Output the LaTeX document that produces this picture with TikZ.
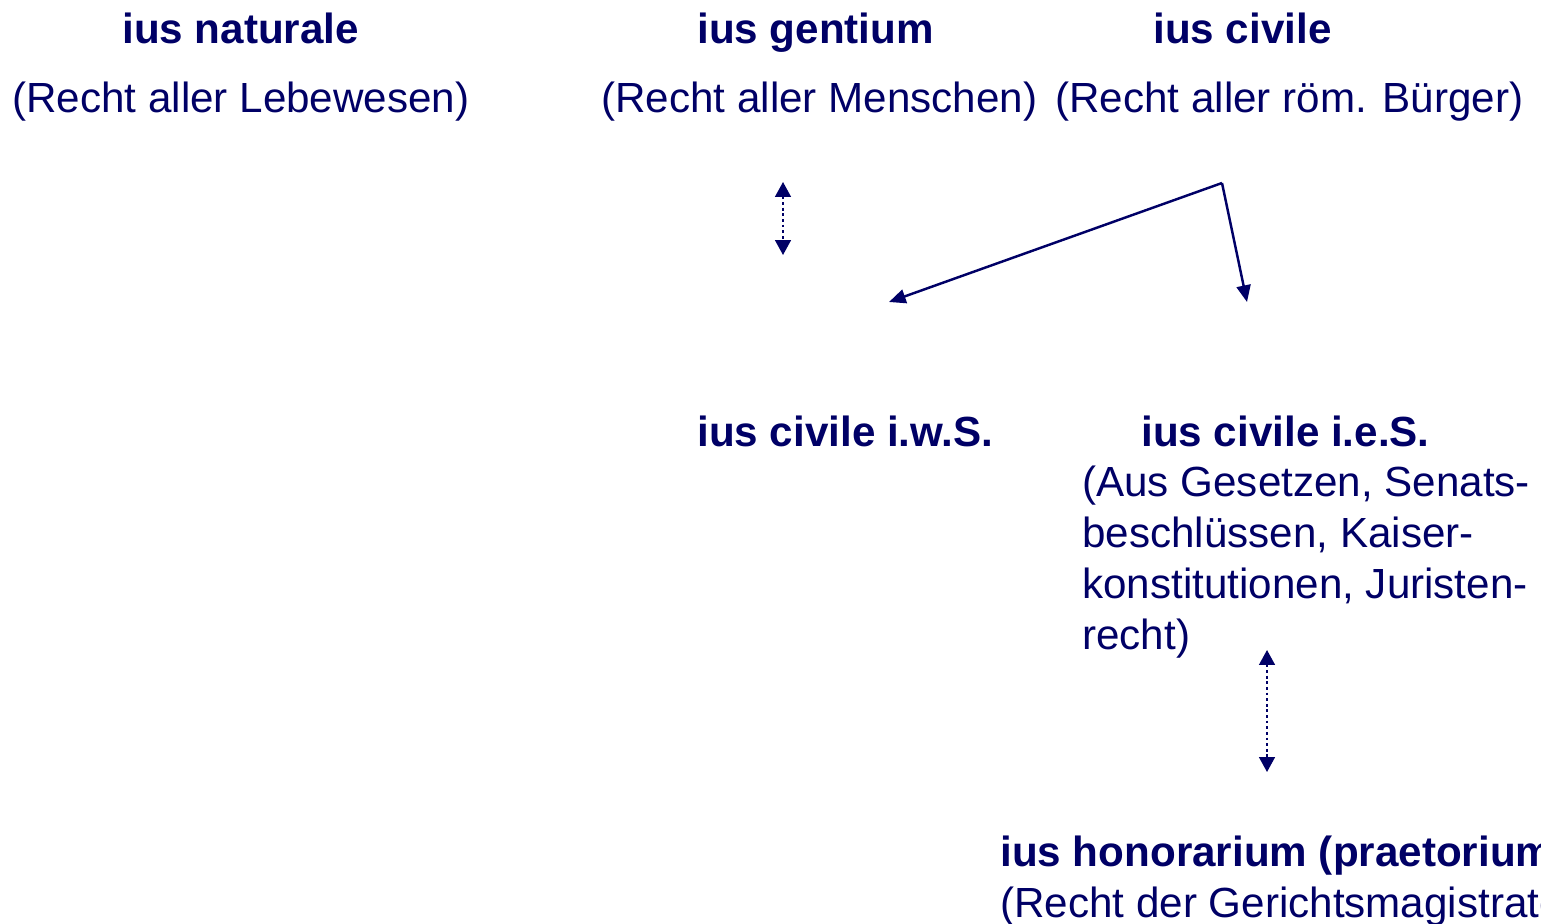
\documentclass[tikz,border=0pt]{standalone}
\usepackage{fontspec}
\setmainfont{Liberation Sans}
\usetikzlibrary{arrows.meta}

\definecolor{navy}{RGB}{0,0,102}

\tikzset{
    heading/.style={anchor=base west, inner sep=0pt, text=navy, font=\fontsize{24}{29}\selectfont\bfseries},
    remark/.style={anchor=base west, inner sep=0pt, text=navy, font=\fontsize{24}{29}\selectfont, align=left},
    branch/.style={draw=navy, line width=1.4pt, -{Triangle[length=9.5pt, width=8pt]}},
    relation/.style={draw=navy, line width=1.1pt, dash pattern=on 1.6pt off 1.6pt, {Triangle[length=8.5pt, width=9pt]}-{Triangle[length=8.5pt, width=9pt]}}
}

\begin{document}
\begin{tikzpicture}[x=0.02cm, y=-0.02cm]

        \useasboundingbox (0,0) rectangle (1541,923);
        \clip (0,0) rectangle (1541,923);

        % top row
        \node[name=natTitle, heading] at (122, 43) {ius naturale};
        \node[name=natNote, remark] at (12, 112) {(Recht aller Lebewesen)};
        \node[name=gentTitle, heading] at (697, 43) {ius gentium};
        \node[name=gentNote, remark] at (601, 112) {(Recht aller Menschen)};
        \node[name=civTitle, heading] at (1153, 43) {ius civile};
        \node[name=civNote, remark] at (1055, 112) {(Recht aller röm. Bürger)};

        % middle row
        \node[name=iwsTitle, heading] at (697, 446) {ius civile i.w.S.};
        \node[name=iesTitle, heading] at (1141, 446) {ius civile i.e.S.};
        \node[name=iesNote, remark, anchor=north west] at (1082, 466) {(Aus Gesetzen, Senats-\\beschlüssen, Kaiser-\\konstitutionen, Juristen-\\recht)};

        % bottom row
        \node[name=honTitle, heading] at (1000, 866) {ius honorarium (praetorium)};
        \node[name=honNote, remark] at (1000, 917) {(Recht der Gerichtsmagistrate)};

        % arrow ends
        \coordinate (gentTop) at (783, 182);
        \coordinate (gentBot) at (783, 255);
        \coordinate (split) at (1222, 183);
        \coordinate (iwsEnd) at (889, 302);
        \coordinate (iesEnd) at (1247, 302);
        \coordinate (iesBot) at (1267, 650);
        \coordinate (honTop) at (1267, 772);

        \draw[relation] (gentTop) -- (gentBot);
        \draw[branch] (split) -- (iwsEnd);
        \draw[branch] (split) -- (iesEnd);
        \draw[relation] (iesBot) -- (honTop);
    \end{tikzpicture}
\end{document}
